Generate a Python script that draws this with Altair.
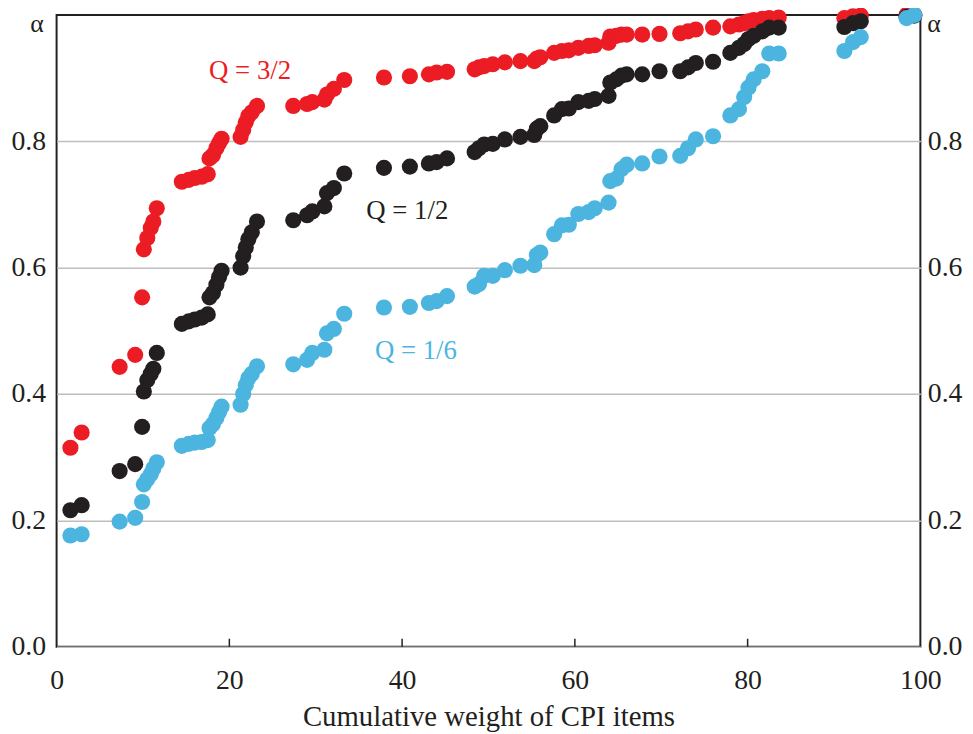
import altair as alt
import pandas as pd

# ---- data ----
weight = [1.6, 2.9, 7.3, 9.1, 9.9, 10.1, 10.5, 10.9, 11.2, 11.6, 14.5, 15.3, 16.0, 16.8, 17.5,
          17.7, 18.1, 18.5, 18.8, 19.1, 21.3, 21.6, 21.9, 22.2, 22.6, 23.2, 27.4, 29.0, 29.6,
          31.0, 31.3, 32.1, 33.3, 37.9, 40.9, 43.1, 44.0, 45.2, 48.4, 48.9, 49.5, 50.5, 51.9,
          53.7, 55.3, 55.6, 56.0, 57.6, 58.5, 59.3, 60.4, 61.6, 62.3, 63.9, 64.1, 64.8, 65.4,
          66.0, 67.8, 69.8, 72.2, 73.1, 74.0, 76.0, 78.0, 79.0, 79.6, 80.1, 80.7, 81.7, 82.5,
          83.6, 91.2, 92.2, 93.1, 98.4, 99.3]

alpha_q16 = [0.176, 0.178, 0.198, 0.204, 0.229, 0.257, 0.265, 0.273, 0.282, 0.292,
             0.318, 0.321, 0.323, 0.324, 0.327, 0.346, 0.352, 0.362, 0.371, 0.380,
             0.383, 0.400, 0.414, 0.425, 0.432, 0.444, 0.447, 0.454, 0.465, 0.470,
             0.496, 0.503, 0.527, 0.537, 0.538, 0.544, 0.547, 0.555, 0.570, 0.574,
             0.587, 0.587, 0.596, 0.603, 0.604, 0.620, 0.624, 0.653, 0.667, 0.668,
             0.685, 0.688, 0.694, 0.703, 0.737, 0.741, 0.756, 0.763, 0.765, 0.776,
             0.777, 0.789, 0.803, 0.808, 0.841, 0.851, 0.870, 0.885, 0.898, 0.911,
             0.939, 0.939, 0.943, 0.957, 0.965, 0.995, 1.0]

alpha_q12 = [0.216, 0.224, 0.278, 0.289, 0.348, 0.404, 0.422, 0.432, 0.440, 0.465,
             0.511, 0.515, 0.518, 0.521, 0.526, 0.553, 0.560, 0.573, 0.585, 0.595,
             0.600, 0.618, 0.632, 0.645, 0.656, 0.673, 0.675, 0.683, 0.689, 0.697,
             0.718, 0.726, 0.749, 0.758, 0.760, 0.765, 0.767, 0.773, 0.783, 0.789,
             0.795, 0.796, 0.803, 0.807, 0.810, 0.820, 0.824, 0.841, 0.851, 0.852,
             0.862, 0.864, 0.867, 0.872, 0.893, 0.898, 0.904, 0.906, 0.906, 0.911,
             0.911, 0.917, 0.924, 0.926, 0.940, 0.948, 0.954, 0.962, 0.967, 0.974,
             0.980, 0.980, 0.981, 0.987, 0.990, 0.997, 0.999]

alpha_q32 = [0.315, 0.339, 0.443, 0.462, 0.553, 0.629, 0.647, 0.663, 0.673, 0.694,
             0.736, 0.739, 0.742, 0.744, 0.748, 0.773, 0.778, 0.789, 0.797, 0.804,
             0.807, 0.818, 0.830, 0.840, 0.846, 0.856, 0.856, 0.859, 0.862, 0.866,
             0.874, 0.883, 0.897, 0.901, 0.903, 0.906, 0.909, 0.910, 0.914, 0.917,
             0.919, 0.922, 0.925, 0.927, 0.927, 0.931, 0.933, 0.940, 0.943, 0.944,
             0.948, 0.951, 0.952, 0.956, 0.966, 0.967, 0.969, 0.969, 0.969, 0.970,
             0.971, 0.974, 0.977, 0.980, 0.982, 0.985, 0.987, 0.990, 0.992, 0.994,
             0.995, 0.996, 0.995, 0.998, 0.999, 1.0, 1.0]

series_names = ["Q = 3/2", "Q = 1/2", "Q = 1/6"]
series_colors = ["#EC1C24", "#231F20", "#4BB5DF"]

label_x = [22.4, 40.6, 41.6]
label_y = [0.912, 0.689, 0.468]

x_ticks = [0, 20, 40, 60, 80, 100]
y_ticks = [0.0, 0.2, 0.4, 0.6, 0.8]
inner_ticks = [20, 40, 60, 80]
axis_symbol = ["α"]

# ---- build tables ----
rows = []
for name, ys in zip(series_names, [alpha_q32, alpha_q12, alpha_q16]):
    for xv, yv in zip(weight, ys):
        rows.append({"weight": xv, "alpha": yv, "series": name})
points_df = pd.DataFrame(rows)
labels_df = pd.DataFrame({"weight": label_x, "alpha": label_y, "series": series_names})
ticks_df = pd.DataFrame({"weight": inner_ticks})
sym_df = pd.DataFrame({"t": axis_symbol, "a": [1.0]})

W, H = 871, 637
FONT = "Liberation Serif"
INK = "#231F20"

xscale = alt.Scale(domain=[0, 100], nice=False, zero=False)
yscale = alt.Scale(domain=[0, 1], nice=False)
cscale = alt.Scale(domain=series_names, range=series_colors)

x_axis = alt.Axis(values=x_ticks, format="d", labelFont=FONT, labelFontSize=28,
                  labelColor=INK, ticks=False, domain=False, grid=False,
                  labelPadding=20, labelFlush=False, labelOverlap=False,
                  title="Cumulative weight of CPI items", titleFont=FONT,
                  titleFontSize=29, titleFontWeight="normal", titleColor=INK,
                  titlePadding=8)
y_left = alt.Axis(values=y_ticks, format=".1f", labelFont=FONT, labelFontSize=28,
                  labelColor=INK, ticks=False, domain=False, grid=True,
                  gridColor="#BEBEBE", gridWidth=1.5, labelPadding=11,
                  labelFlush=False, title=None, orient="left")
y_right = alt.Axis(values=y_ticks, format=".1f", labelFont=FONT, labelFontSize=28,
                   labelColor=INK, ticks=False, domain=False, grid=False,
                   labelPadding=7, labelFlush=False, title=None, orient="right")

pts = alt.Chart(points_df).mark_circle(size=265, opacity=1).encode(
    x=alt.X("weight:Q", scale=xscale, axis=x_axis),
    y=alt.Y("alpha:Q", scale=yscale, axis=y_left),
    color=alt.Color("series:N", scale=cscale, legend=None),
    order=alt.Order("idx:Q"),
).transform_window(idx="row_number()")

labels = alt.Chart(labels_df).mark_text(font=FONT, fontSize=27, align="center",
                                        baseline="middle").encode(
    x=alt.X("weight:Q", scale=xscale, axis=x_axis),
    y=alt.Y("alpha:Q", scale=yscale, axis=y_right),
    text="series:N",
    color=alt.Color("series:N", scale=cscale, legend=None),
)

ticks = alt.Chart(ticks_df).mark_rule(color=INK, strokeWidth=1.5).encode(
    x=alt.X("weight:Q", scale=xscale, axis=x_axis),
    y=alt.value(H),
    y2=alt.value(H - 8),
)

alpha_left = alt.Chart(sym_df).mark_text(
    font=FONT, fontSize=26, align="right", baseline="middle", dy=9, color=INK
).encode(x=alt.value(-13), y=alt.Y("a:Q", scale=yscale, axis=None), text="t:N")

alpha_right = alt.Chart(sym_df).mark_text(
    font=FONT, fontSize=26, align="left", baseline="middle", dy=9, color=INK
).encode(x=alt.value(W + 7), y=alt.Y("a:Q", scale=yscale, axis=None), text="t:N")

chart = alt.layer(ticks, pts, labels, alpha_left, alpha_right).resolve_axis(
    y="independent"
).properties(
    width=W, height=H,
    autosize=alt.AutoSizeParams(type="none"),
    padding={"left": 49, "top": 4, "right": 45, "bottom": 85},
    background="white",
).configure_view(stroke=INK, strokeWidth=2)

chart.save("out.html", embed_options={"renderer": "svg", "actions": False})
